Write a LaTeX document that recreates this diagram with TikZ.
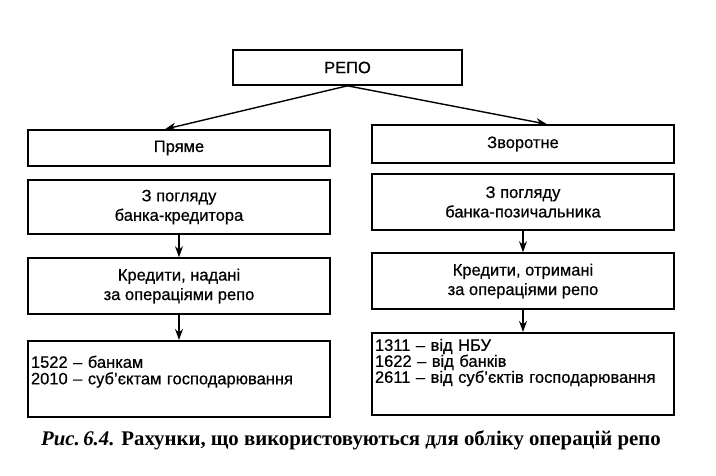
\documentclass[tikz,border=0pt]{standalone}
\usepackage{fontspec}
\setmainfont{Liberation Serif}
\setsansfont[FakeBold=0.6]{Liberation Sans}
\usepackage{tikz}
\usetikzlibrary{arrows.meta,positioning,calc}

\tikzset{
  box/.style={draw,line width=1.6pt,minimum width=302pt,align=center,
    font=\sffamily\fontsize{16.5}{19.5}\selectfont},
  listbox/.style={box,text width=296pt,align=left,inner xsep=2pt,inner ysep=3pt,
    font=\sffamily\fontsize{16.5}{16.5}\selectfont},
  arr/.style={-{Stealth[length=11pt,width=8pt]},line width=1.4pt}
}

\begin{document}
\begin{tikzpicture}[x=1pt,y=-1pt]
\useasboundingbox (0,0) rectangle (716,475);

% Top
\node[box,minimum width=229pt,minimum height=35pt] (repo) at (347.5,67.5) {РЕПО};

% Left column
\node[box,minimum height=36pt] (direct) at (179,148) {Пряме};
\node[box,minimum height=54pt] (lview) at (179,207) {З погляду\\банка-кредитора};
\node[box,minimum height=56pt] (lcred) at (179,286) {Кредити, надані\\за операціями репо};
\node[listbox,anchor=north,text height=24pt,text depth=46pt] (lacc) at (179,340)
  {1522 – банкам\\2010 – суб’єктам господарювання};

% Right column
\node[box,minimum height=38pt] (reverse) at (523,144) {Зворотне};
\node[box,minimum height=56pt] (rview) at (523,202) {З погляду\\банка-позичальника};
\node[box,minimum height=56pt] (rcred) at (523,281) {Кредити, отримані\\за операціями репо};
\node[listbox,anchor=north,text height=15pt,text depth=61pt,
  font=\sffamily\fontsize{16.5}{16}\selectfont] (racc) at (523,332)
  {1311 – від НБУ\\1622 – від банків\\2611 – від суб’єктів господарювання};

% Arrows
\draw[arr] (repo.south) -- ([xshift=-14pt]direct.north);
\draw[arr] (repo.south) -- ([xshift=24pt]reverse.north);
\foreach \a/\b in {lview/lcred,lcred/lacc,rview/rcred,rcred/racc}
  \draw[arr] (\a.south) -- (\b.north);

% Caption
\node[font=\fontsize{20.8}{24}\selectfont\bfseries] (caption) at (351,440)
  {\textit{Рис.\,6.4.} Рахунки, що використовуються для обліку операцій репо};
\end{tikzpicture}
\end{document}
